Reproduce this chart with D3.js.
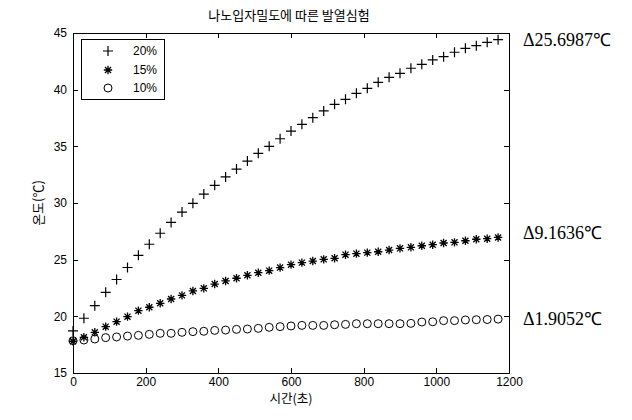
<!DOCTYPE html>
<html><head><meta charset="utf-8">
<script src="https://cdn.jsdelivr.net/npm/d3@7"></script>
<style>
body{margin:0;background:#fff;}
svg{display:block;}
text{fill:#000;}
</style></head>
<body>
<svg id="c" width="632" height="420"></svg>
<script>
const times = [0,30,60,90,120,150,180,210,240,270,300,330,360,390,420,450,480,510,540,570,600,630,660,690,720,750,780,810,840,870,900,930,960,990,1020,1050,1080,1110,1140,1170];
const s20 = [18.71,19.83,20.94,22.12,23.25,24.31,25.38,26.36,27.33,28.29,29.2,29.97,30.79,31.56,32.3,32.99,33.7,34.38,35.0,35.67,36.35,36.94,37.53,38.12,38.71,39.15,39.68,40.12,40.65,41.09,41.44,41.89,42.24,42.62,42.91,43.3,43.65,43.88,44.18,44.41];
const s15 = [17.8,18.15,18.59,19.09,19.53,19.97,20.5,20.8,21.15,21.53,21.85,22.24,22.47,22.85,23.12,23.36,23.62,23.85,24.03,24.3,24.56,24.74,24.88,25.03,25.12,25.44,25.53,25.62,25.7,25.85,26.0,26.09,26.23,26.32,26.47,26.53,26.67,26.8,26.85,26.96];
const s10 = [17.85,17.91,18.0,18.12,18.18,18.26,18.32,18.41,18.5,18.5,18.59,18.65,18.68,18.76,18.79,18.85,18.88,18.94,19.03,19.09,19.15,19.2,19.2,19.2,19.26,19.29,19.35,19.35,19.35,19.35,19.35,19.38,19.5,19.52,19.62,19.62,19.68,19.7,19.72,19.755];
const seriesNames = ["20%","15%","10%"];
const xTicks = [0,200,400,600,800,1000,1200];
const yTicks = [15,20,25,30,35,40,45];
const deltaLabels = ["\u039425.6987\u2103","\u03949.1636\u2103","\u03941.9052\u2103"];
const title = "나노입자밀도에 따른 발열심험";
const xLabel = "시간(초)";
const yLabel = "온도(\u2103)";

const svg = d3.select("#c");
const L=73, R=509, T=33, B=373;
const x = d3.scaleLinear().domain([0,1200]).range([L,R]);
const y = d3.scaleLinear().domain([15,45]).range([B,T]);
const tickFont = "Liberation Sans, Arial, sans-serif";

svg.append("rect").attr("x",L).attr("y",T).attr("width",R-L).attr("height",B-T)
  .attr("fill","none").attr("stroke","#000").attr("stroke-width",1).attr("shape-rendering","crispEdges");

const tl = 5;
const fmt = d3.format("d");
const ax = svg.append("g").attr("transform",`translate(0,${B})`)
  .call(d3.axisBottom(x).tickValues(xTicks).tickFormat(fmt).tickSizeInner(-tl).tickSizeOuter(0).tickPadding(4));
const axTop = svg.append("g").attr("transform",`translate(0,${T})`)
  .call(d3.axisTop(x).tickValues(xTicks).tickSizeInner(-tl).tickSizeOuter(0).tickFormat(""));
const ay = svg.append("g").attr("transform",`translate(${L},0)`)
  .call(d3.axisLeft(y).tickValues(yTicks).tickFormat(fmt).tickSizeInner(-tl).tickSizeOuter(0).tickPadding(6));
const ayR = svg.append("g").attr("transform",`translate(${R},0)`)
  .call(d3.axisRight(y).tickValues(yTicks).tickSizeInner(-tl).tickSizeOuter(0).tickFormat(""));
[ax,axTop,ay,ayR].forEach(g=>{
  g.select(".domain").remove();
  g.selectAll("line").attr("stroke","#000").attr("shape-rendering","crispEdges");
  g.selectAll("text").attr("font-family",tickFont).attr("font-size",12).attr("fill","#000");
});

function plus(g,s){ g.append("path").attr("d",`M${-s},0H${s}M0,${-s}V${s}`).attr("stroke","#000").attr("stroke-width",1.2).attr("fill","none"); }
function star(g,s){ const d=s*0.72; g.append("path").attr("d",`M${-s},0H${s}M0,${-s}V${s}M${-d},${-d}L${d},${d}M${-d},${d}L${d},${-d}`).attr("stroke","#000").attr("stroke-width",1.3).attr("fill","none"); }
function circ(g,s){ g.append("circle").attr("r",s).attr("stroke","#000").attr("stroke-width",1).attr("fill","none"); }
const drawers=[plus,star,circ];
const sizes=[5,4.2,4];
const allSeries=[s20,s15,s10];

allSeries.forEach((vals,i)=>{
  const g = svg.append("g");
  g.selectAll("g").data(times.map((t,j)=>[t,vals[j]])).join("g")
    .attr("transform",d=>`translate(${x(d[0])},${y(d[1])})`)
    .each(function(){ drawers[i](d3.select(this),sizes[i]); });
});

const lg = svg.append("g");
lg.append("rect").attr("x",81).attr("y",39).attr("width",83).attr("height",60)
  .attr("fill","#fff").attr("stroke","#000").attr("shape-rendering","crispEdges");
const rowsY=[51,70,88];
seriesNames.forEach((n,i)=>{
  const g=lg.append("g").attr("transform",`translate(108,${rowsY[i]})`);
  drawers[i](g,sizes[i]);
  lg.append("text").attr("x",133).attr("y",rowsY[i]).attr("dy","0.36em")
    .attr("font-family",tickFont).attr("font-size",12).text(n);
});

const kfont = "'Noto Sans CJK KR', sans-serif";
svg.append("text").attr("x",289).attr("y",15).attr("dy","0.35em").attr("text-anchor","middle")
  .attr("font-family",kfont).attr("font-size",13).text(title);
svg.append("text").attr("x",291).attr("y",399).attr("dy","0.35em").attr("text-anchor","middle")
  .attr("font-family",kfont).attr("font-size",12.5).text(xLabel);
svg.append("text").attr("transform","translate(38,203) rotate(-90)").attr("dy","0.35em").attr("text-anchor","middle")
  .attr("font-family",kfont).attr("font-size",13).text(yLabel);

const finals=[s20[s20.length-1], s15[s15.length-1], s10[s10.length-1]];
const annY=[y(finals[0])+0.5, y(finals[1])-5, y(finals[2])];
deltaLabels.forEach((t,i)=>{
  svg.append("text").attr("x",523).attr("y",annY[i]).attr("dy","0.35em")
    .attr("font-family","'Liberation Serif', serif").attr("font-size",18).text(t);
});
</script>
</body></html>
